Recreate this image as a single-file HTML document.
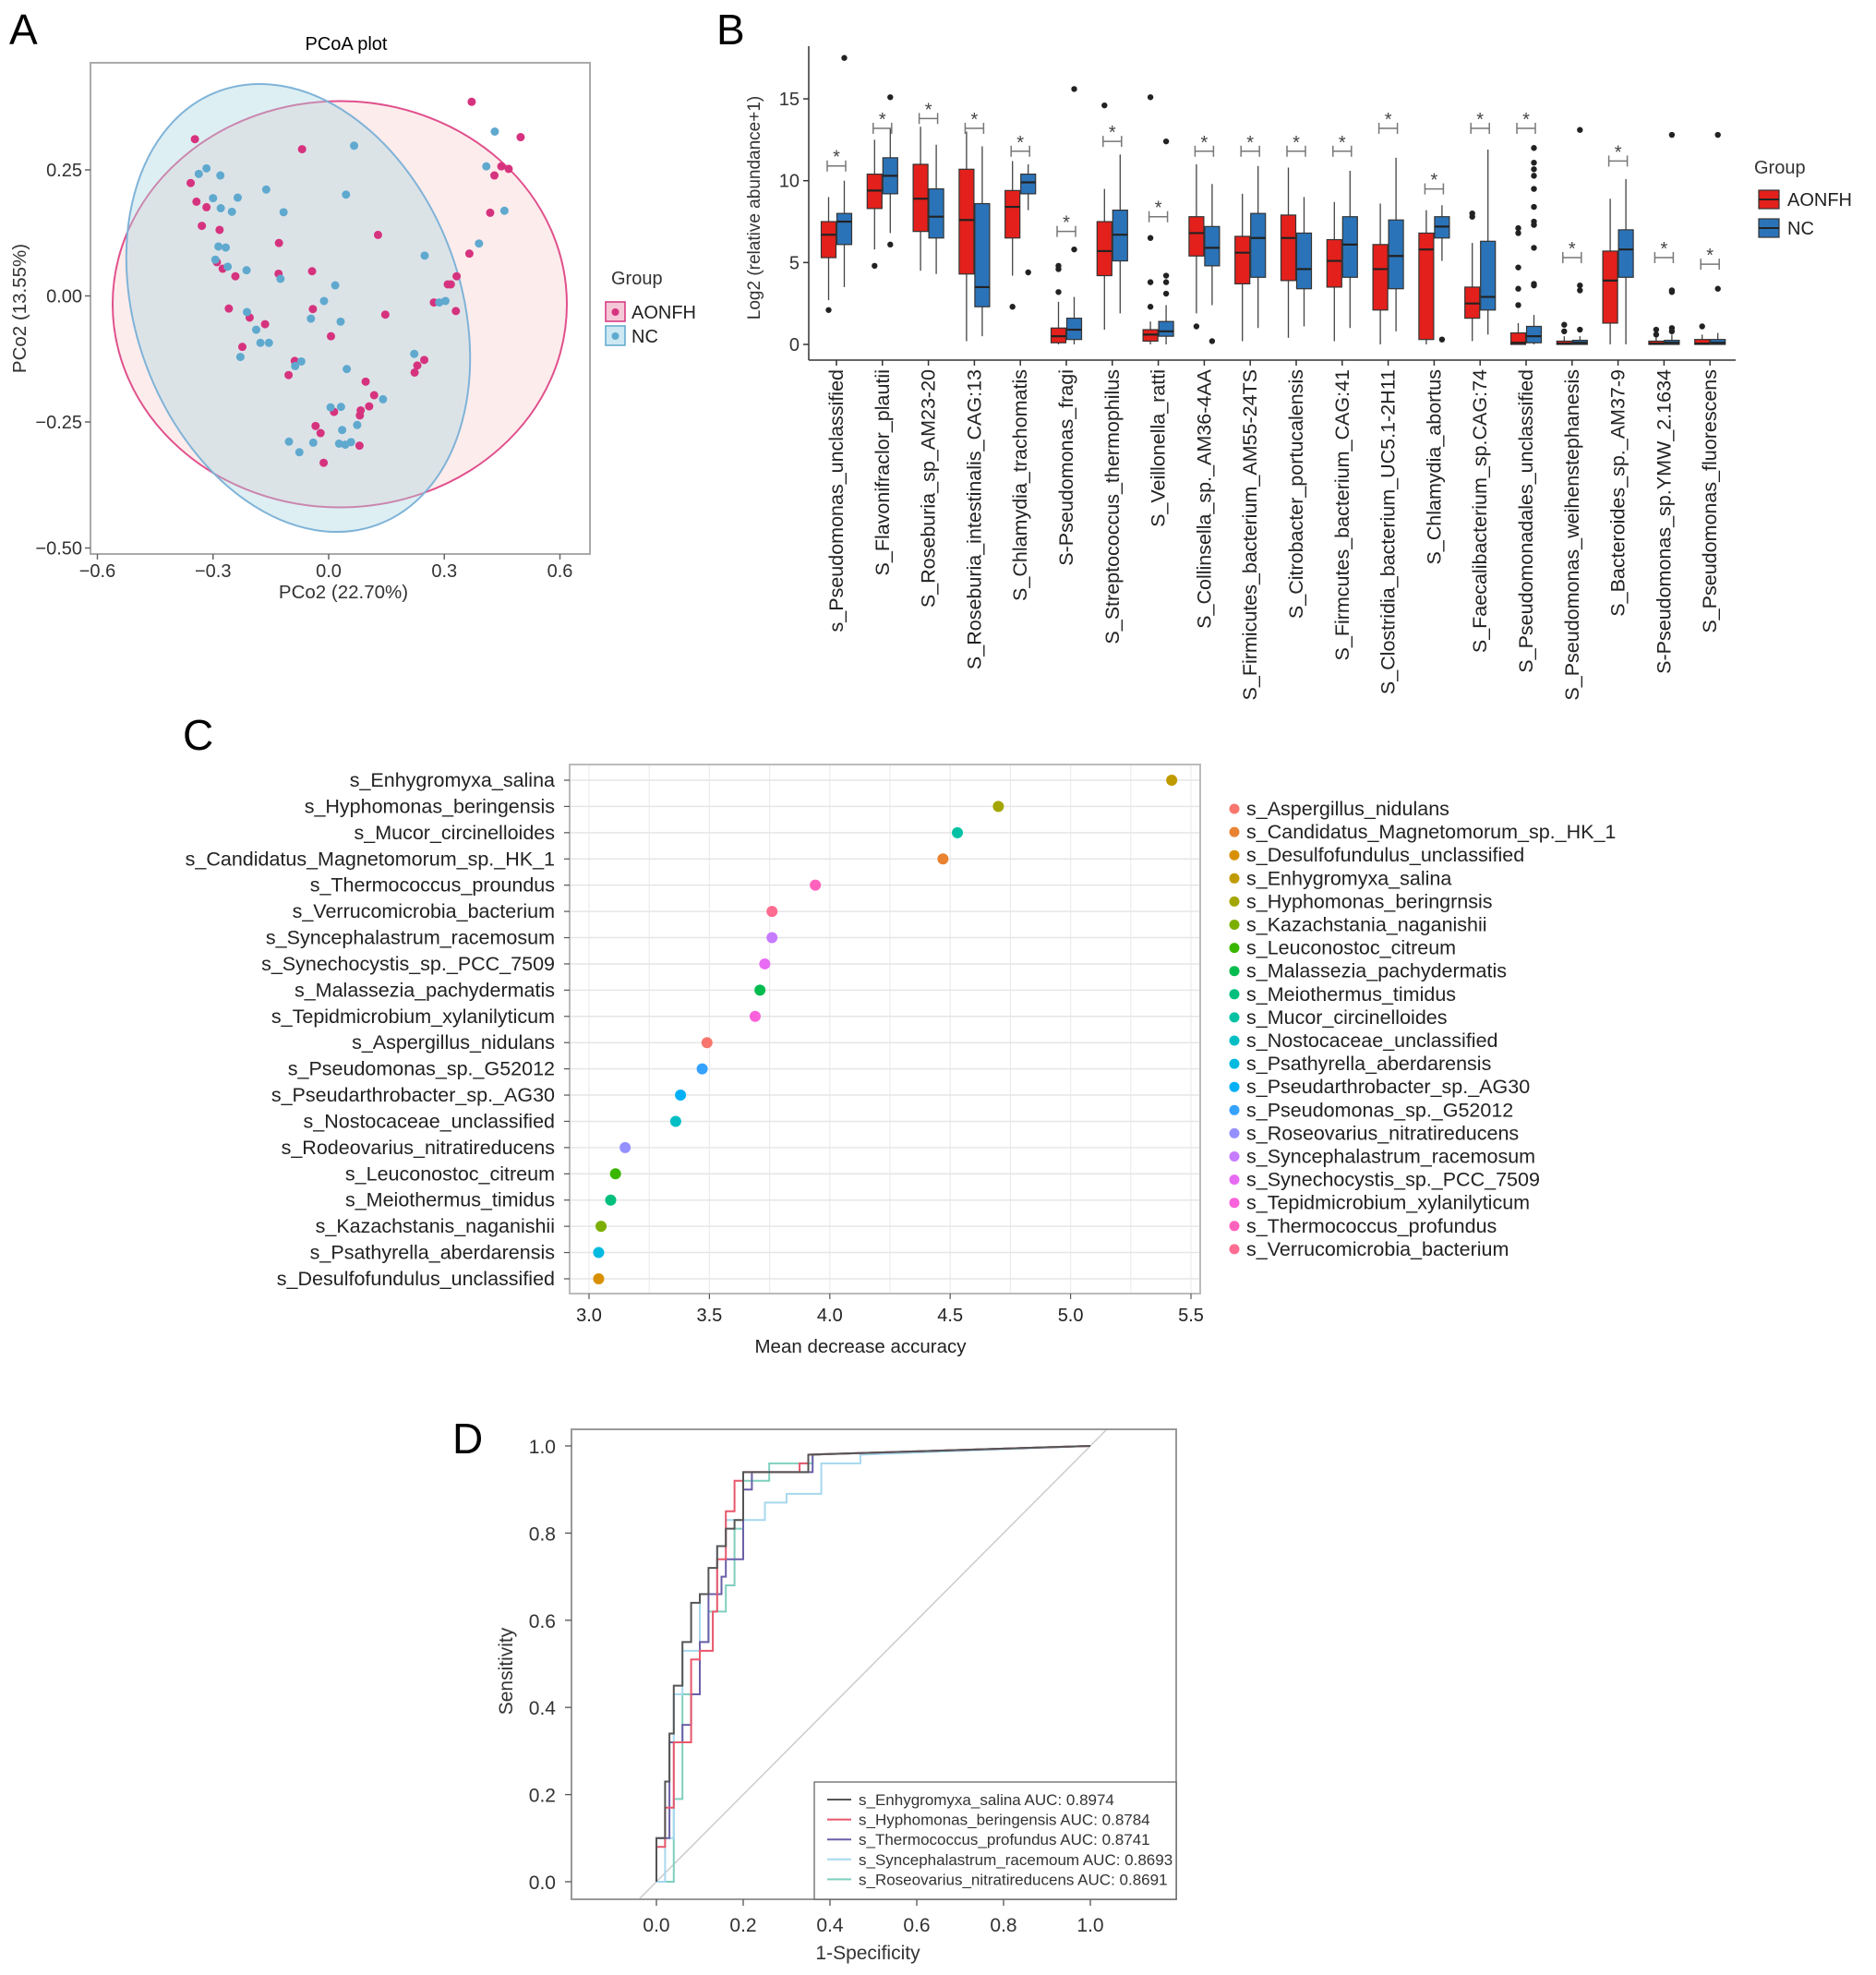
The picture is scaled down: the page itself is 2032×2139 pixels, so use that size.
<!DOCTYPE html>
<html><head><meta charset="utf-8">
<style>
html,body{margin:0;padding:0;background:#fff;}
svg{display:block;font-family:"Liberation Sans",Arial,sans-serif;}
</style></head>
<body>
<svg id="fig" width="2032" height="2139" viewBox="0 0 2032 2139" xmlns="http://www.w3.org/2000/svg">
<rect width="2032" height="2139" fill="#fff"/>
<text x="10" y="48" font-size="46">A</text>
<text x="776" y="48" font-size="46">B</text>
<text x="198" y="812" font-size="46">C</text>
<text x="490" y="1574" font-size="46">D</text>
<g id="pa"></g>
<g id="pb"></g>
<g id="pc"></g>
<g id="pd"></g>
</svg>
<script>
// ===== Panel A data =====
const aonfhX=[-0.347,-0.358,-0.343,-0.317,-0.329,-0.283,-0.275,-0.290,-0.242,-0.129,-0.069,0.128,-0.130,-0.043,-0.259,-0.205,-0.165,-0.224,-0.104,-0.088,-0.041,0.006,0.147,0.096,0.118,0.105,0.083,0.081,0.014,-0.034,-0.021,-0.013,0.080,0.223,0.230,0.248,0.273,0.309,0.317,0.332,0.330,0.365,0.419,0.430,0.448,0.467,0.371,0.498];
const aonfhY=[0.311,0.224,0.187,0.176,0.139,0.131,0.054,0.067,0.039,0.105,0.291,0.121,0.044,0.049,-0.025,-0.043,-0.056,-0.101,-0.157,-0.129,-0.026,-0.080,-0.037,-0.170,-0.197,-0.219,-0.227,-0.237,-0.230,-0.258,-0.272,-0.331,-0.297,-0.152,-0.138,-0.127,-0.013,0.023,0.023,0.039,-0.030,0.084,0.165,0.239,0.257,0.252,0.385,0.315];
const ncX=[-0.337,-0.317,-0.281,-0.300,-0.280,-0.251,-0.236,-0.162,-0.117,0.045,0.066,-0.286,-0.267,-0.294,-0.262,-0.213,-0.125,-0.212,-0.188,-0.177,-0.155,-0.229,-0.087,-0.071,-0.046,-0.012,0.017,0.031,0.047,0.005,0.032,0.074,0.035,0.027,0.043,0.058,-0.040,-0.103,-0.076,0.141,0.222,0.287,0.303,0.249,0.390,0.456,0.409,0.431];
const ncY=[0.242,0.253,0.239,0.194,0.174,0.167,0.195,0.211,0.166,0.201,0.298,0.098,0.096,0.072,0.058,0.051,0.034,-0.032,-0.067,-0.093,-0.093,-0.121,-0.139,-0.130,-0.045,-0.010,0.021,-0.051,-0.145,-0.221,-0.220,-0.256,-0.266,-0.293,-0.295,-0.290,-0.291,-0.289,-0.310,-0.205,-0.115,-0.013,-0.010,0.080,0.104,0.169,0.257,0.326];
const aXTicks=[-0.6,-0.3,0.0,0.3,0.6];
const aXTickLabels=["\u22120.6","\u22120.3","0.0","0.3","0.6"];
const aYTicks=[0.25,0.0,-0.25,-0.5];
const aYTickLabels=["0.25","0.00","\u22120.25","\u22120.50"];

// ===== Panel B data =====
const bCategories=["s_Pseudomonas_unclassified","S_Flavonifraclor_plautii","S_Roseburia_sp_AM23-20","S_Roseburia_intestinalis_CAG:13","S_Chlamydia_trachomatis","S-Pseudomonas_fragi","S_Streptococcus_thermophilus","S_Veillonella_ratti","S_Collinsella_sp._AM36-4AA","S_Firmicutes_bacterium_AM55-24TS","S_Citrobacter_portucalensis","S_Firmcutes_bacterium_CAG:41","S_Clostridia_bacterium_UC5.1-2H11","S_Chlamydia_abortus","S_Faecalibacterium_sp.CAG:74","S_Pseudomonadales_unclassified","S_Pseudomonas_weihenstephanesis","S_Bacteroides_sp._AM37-9","S-Pseudomonas_sp.YMW_2.1634","S_Pseudomonas_fluorescens"];
const redQ1=[5.3,8.3,6.9,4.3,6.5,0.1,4.2,0.2,5.4,3.7,3.9,3.5,2.1,0.3,1.6,0,0,1.3,0,0];
const redMed=[6.7,9.4,8.9,7.6,8.4,0.5,5.7,0.6,6.8,5.6,6.5,5.1,4.6,5.8,2.5,0.1,0.05,3.9,0.05,0.05];
const redQ3=[7.5,10.4,11.0,10.7,9.4,1.0,7.5,0.9,7.8,6.6,7.9,6.4,6.1,6.8,3.5,0.7,0.2,5.7,0.2,0.3];
const redLo=[2.7,5.8,4.5,0.2,4.2,0,0.9,0,1.9,0.2,0.4,0.2,0,0,0.2,0,0,0,0,0];
const redHi=[9.0,12.5,13.3,13.0,11.2,2.6,9.5,1.4,11.0,9.2,10.8,8.7,8.6,8.2,6.2,1.3,0.5,8.9,0.5,0.6];
const redOut=[[2.1],[4.8],[],[],[2.3],[3.2,4.6,4.8],[14.6],[2.3,3.8,6.5,15.1],[1.1],[],[],[],[],[],[7.8,8.0],[2.4,3.4,4.7,6.8,7.1],[0.8,1.2],[],[0.6,0.9],[1.1]];
const blueQ1=[6.1,9.2,6.5,2.3,9.2,0.3,5.1,0.5,4.8,4.1,3.4,4.1,3.4,6.5,2.1,0.1,0,4.1,0,0];
const blueMed=[7.5,10.3,7.8,3.5,9.9,0.9,6.7,0.8,5.9,6.5,4.6,6.1,5.4,7.2,2.9,0.5,0.1,5.8,0.1,0.1];
const blueQ3=[8.0,11.4,9.5,8.6,10.4,1.6,8.2,1.4,7.2,8.0,6.8,7.8,7.6,7.8,6.3,1.1,0.25,7.0,0.25,0.3];
const blueLo=[3.5,6.8,4.3,0.5,8.2,0,1.9,0,2.4,1.0,1.1,1.0,0.8,5.1,0.6,0,0,0,0,0];
const blueHi=[10.0,13.2,12.2,12.1,11.0,2.9,11.6,2.4,9.8,10.9,9.0,10.6,11.4,8.5,11.9,1.8,0.5,10.1,0.6,0.7];
const blueOut=[[17.5],[6.1,15.1],[],[],[4.4],[5.8,15.6],[],[3.1,3.8,4.2,12.4],[0.2],[],[],[],[],[0.3],[],[3.6,3.7,5.9,7.3,7.5,8.4,9.5,10.3,10.7,11.1,12.0],[0.9,3.3,3.6,13.1],[],[0.8,1.0,3.2,3.3,12.8],[3.4,12.8]];
const sigLevel=[10.9,13.2,13.8,13.2,11.8,6.9,12.4,7.8,11.8,11.8,11.8,11.8,13.2,9.5,13.2,13.2,5.3,11.2,5.3,4.9];
const bYTicks=[0,5,10,15];

// ===== Panel C data =====
const cCategories=["s_Enhygromyxa_salina","s_Hyphomonas_beringensis","s_Mucor_circinelloides","s_Candidatus_Magnetomorum_sp._HK_1","s_Thermococcus_proundus","s_Verrucomicrobia_bacterium","s_Syncephalastrum_racemosum","s_Synechocystis_sp._PCC_7509","s_Malassezia_pachydermatis","s_Tepidmicrobium_xylanilyticum","s_Aspergillus_nidulans","s_Pseudomonas_sp._G52012","s_Pseudarthrobacter_sp._AG30","s_Nostocaceae_unclassified","s_Rodeovarius_nitratireducens","s_Leuconostoc_citreum","s_Meiothermus_timidus","s_Kazachstanis_naganishii","s_Psathyrella_aberdarensis","s_Desulfofundulus_unclassified"];
const cValues=[5.42,4.70,4.53,4.47,3.94,3.76,3.76,3.73,3.71,3.69,3.49,3.47,3.38,3.36,3.15,3.11,3.09,3.05,3.04,3.04];
const cColorIdx=[3,4,9,1,18,19,15,16,7,17,0,13,12,10,14,6,8,5,11,2];
const cLegend=["s_Aspergillus_nidulans","s_Candidatus_Magnetomorum_sp._HK_1","s_Desulfofundulus_unclassified","s_Enhygromyxa_salina","s_Hyphomonas_beringrnsis","s_Kazachstania_naganishii","s_Leuconostoc_citreum","s_Malassezia_pachydermatis","s_Meiothermus_timidus","s_Mucor_circinelloides","s_Nostocaceae_unclassified","s_Psathyrella_aberdarensis","s_Pseudarthrobacter_sp._AG30","s_Pseudomonas_sp._G52012","s_Roseovarius_nitratireducens","s_Syncephalastrum_racemosum","s_Synechocystis_sp._PCC_7509","s_Tepidmicrobium_xylanilyticum","s_Thermococcus_profundus","s_Verrucomicrobia_bacterium"];
const cXTicks=[3.0,3.5,4.0,4.5,5.0,5.5];

// ===== Panel D data =====
const rocNames=["s_Enhygromyxa_salina AUC: 0.8974","s_Hyphomonas_beringensis AUC: 0.8784","s_Thermococcus_profundus AUC: 0.8741","s_Syncephalastrum_racemoum AUC: 0.8693","s_Roseovarius_nitratireducens AUC: 0.8691"];
const roc1X=[0,0,0.02,0.02,0.03,0.03,0.04,0.04,0.06,0.06,0.08,0.08,0.10,0.10,0.12,0.12,0.14,0.14,0.16,0.16,0.18,0.18,0.20,0.20,0.35,0.35,1.0];
const roc1Y=[0,0.10,0.10,0.23,0.23,0.34,0.34,0.45,0.45,0.55,0.55,0.64,0.64,0.66,0.66,0.72,0.72,0.77,0.77,0.81,0.81,0.83,0.83,0.94,0.94,0.98,1.0];
const roc2X=[0,0,0.02,0.02,0.04,0.04,0.08,0.08,0.10,0.10,0.13,0.13,0.14,0.14,0.16,0.16,0.18,0.18,0.20,0.20,0.33,0.33,0.35,0.35,1.0];
const roc2Y=[0,0.08,0.08,0.17,0.17,0.32,0.32,0.51,0.51,0.53,0.53,0.62,0.62,0.74,0.74,0.85,0.85,0.92,0.92,0.94,0.94,0.96,0.96,0.98,1.0];
const roc3X=[0,0,0.03,0.03,0.06,0.06,0.08,0.08,0.10,0.10,0.12,0.12,0.15,0.15,0.16,0.16,0.20,0.20,0.22,0.22,0.36,0.36,1.0];
const roc3Y=[0,0.10,0.10,0.32,0.32,0.36,0.36,0.43,0.43,0.55,0.55,0.66,0.66,0.70,0.70,0.74,0.74,0.90,0.90,0.94,0.94,0.98,1.0];
const roc4X=[0,0.02,0.02,0.04,0.04,0.06,0.06,0.10,0.10,0.14,0.14,0.16,0.16,0.25,0.25,0.30,0.30,0.38,0.38,0.47,0.47,1.0];
const roc4Y=[0,0,0.10,0.10,0.43,0.43,0.53,0.53,0.66,0.66,0.77,0.77,0.83,0.83,0.87,0.87,0.89,0.89,0.96,0.96,0.98,1.0];
const roc5X=[0,0.04,0.04,0.06,0.06,0.10,0.10,0.12,0.12,0.16,0.16,0.18,0.18,0.20,0.20,0.26,0.26,0.36,0.36,1.0];
const roc5Y=[0,0,0.19,0.19,0.43,0.43,0.55,0.55,0.62,0.62,0.68,0.68,0.81,0.81,0.92,0.92,0.96,0.96,0.98,1.0];
const dTicks=[0.0,0.2,0.4,0.6,0.8,1.0];

const NS="http://www.w3.org/2000/svg";
function mk(parent,tag,attrs,text){const e=document.createElementNS(NS,tag);for(const k in attrs)e.setAttribute(k,attrs[k]);if(text!==undefined)e.textContent=text;parent.appendChild(e);return e;}

// ===== Panel A =====
(function(){
const g=document.getElementById('pa');
const ax=v=>356+v*417.5, ay=v=>320.5-v*546;
let t=mk(g,'text',{x:375,y:54,'font-size':20,'text-anchor':'middle'},'PCoA plot');


let r=mk(g,'rect',{x:98,y:68,width:541,height:532,fill:'#fff',stroke:'#aaa','stroke-width':2});


let e1=mk(g,'ellipse',{cx:368,cy:329.5,rx:246,ry:220,fill:'rgba(250,200,200,0.35)',stroke:'#e0508c','stroke-width':2});


let e2=mk(g,'ellipse',{cx:0,cy:0,rx:176,ry:250,transform:'translate(323,333.5) rotate(-20)',fill:'rgba(170,215,225,0.4)',stroke:'#7fb3d8','stroke-width':2});


for(let i=0;i<aonfhX.length;i++){
 const c=mk(g,'circle',{cx:ax(aonfhX[i]),cy:ay(aonfhY[i]),r:4.5,fill:'#d6337f'});
 
 
}
for(let i=0;i<ncX.length;i++){
 const c=mk(g,'circle',{cx:ax(ncX[i]),cy:ay(ncY[i]),r:4.5,fill:'#5fa9cf'});
 
 
}
aXTicks.forEach((v,i)=>{
 mk(g,'line',{x1:ax(v),x2:ax(v),y1:600,y2:606,stroke:'#666','stroke-width':1.5});
 const l=mk(g,'text',{x:ax(v),y:625,'font-size':20,'text-anchor':'middle',fill:'#333'},aXTickLabels[i]);
 
 
});
aYTicks.forEach((v,i)=>{
 mk(g,'line',{x1:92,x2:98,y1:ay(v),y2:ay(v),stroke:'#666','stroke-width':1.5});
 const l=mk(g,'text',{x:89,y:ay(v)+7,'font-size':20,'text-anchor':'end',fill:'#333'},aYTickLabels[i]);
 
 
});
t=mk(g,'text',{x:372,y:648,'font-size':20.5,'text-anchor':'middle',fill:'#333'},'PCo2 (22.70%)');


t=mk(g,'text',{x:0,y:0,'font-size':20.5,'text-anchor':'middle',fill:'#333',transform:'translate(28,334) rotate(-90)'},'PCo2 (13.55%)');


t=mk(g,'text',{x:662,y:308,'font-size':20,fill:'#333'},'Group');


[['AONFH','#d6337f','#f5c8d8',338],['NC','#5fa9cf','#cde8f2',364]].forEach(d=>{
 const lg=mk(g,'g',{});
 
 
 mk(lg,'rect',{x:656,y:d[3]-11,width:21,height:21,fill:d[2],stroke:d[1],'stroke-width':1.5});
 mk(lg,'circle',{cx:666.5,cy:d[3],r:4,fill:d[1]});
 mk(lg,'text',{x:684,y:d[3]+7,'font-size':20,fill:'#222'},d[0]);
});
})();

// ===== Panel B =====
(function(){
const g=document.getElementById('pb');
const by=v=>373-v*17.73;
const gx=i=>906+i*49.8;
mk(g,'line',{x1:876,x2:876,y1:50,y2:390,stroke:'#333','stroke-width':1.5});
mk(g,'line',{x1:876,x2:1880,y1:390,y2:390,stroke:'#333','stroke-width':1.5});
bYTicks.forEach(v=>{
 mk(g,'line',{x1:870,x2:876,y1:by(v),y2:by(v),stroke:'#333','stroke-width':1.5});
 const l=mk(g,'text',{x:866,y:by(v)+7,'font-size':20,'text-anchor':'end',fill:'#333'},String(v));
 
 
});
let t=mk(g,'text',{x:0,y:0,'font-size':19,'text-anchor':'middle',fill:'#333',transform:'translate(823,225) rotate(-90)'},'Log2 (relative abundance+1)');


function box(cx,q1,md,q3,lo,hi,out,fill,name){
 const bg=mk(g,'g',{});
 
 
 mk(bg,'line',{x1:cx,x2:cx,y1:by(hi),y2:by(lo),stroke:'#444','stroke-width':1.3});
 mk(bg,'rect',{x:cx-8,y:by(q3),width:16,height:Math.max(1.5,by(q1)-by(q3)),fill:fill,stroke:'#333','stroke-width':1.2});
 mk(bg,'line',{x1:cx-8,x2:cx+8,y1:by(md),y2:by(md),stroke:'#222','stroke-width':2.2});
 out.forEach(o=>mk(bg,'circle',{cx:cx,cy:by(o),r:3.2,fill:'#222'}));
}
bCategories.forEach((c,i)=>{
 const x=gx(i);
 box(x-8.5,redQ1[i],redMed[i],redQ3[i],redLo[i],redHi[i],redOut[i],'#e3201b','aonfh-box');
 box(x+8.5,blueQ1[i],blueMed[i],blueQ3[i],blueLo[i],blueHi[i],blueOut[i],'#2b73b8','nc-box');
 mk(g,'line',{x1:x,x2:x,y1:390,y2:396,stroke:'#333','stroke-width':1.5});
 const sg=mk(g,'g',{});
 
 
 const s=by(sigLevel[i]);
 mk(sg,'line',{x1:x-10,x2:x+10,y1:s,y2:s,stroke:'#777','stroke-width':1.5});
 mk(sg,'line',{x1:x-10,x2:x-10,y1:s-6,y2:s+6,stroke:'#777','stroke-width':1.5});
 mk(sg,'line',{x1:x+10,x2:x+10,y1:s-6,y2:s+6,stroke:'#777','stroke-width':1.5});
 mk(sg,'text',{x:x,y:s-3,'font-size':20,'text-anchor':'middle',fill:'#444'},'*');
 const l=mk(g,'text',{x:0,y:0,'font-size':21.5,'text-anchor':'end',fill:'#222',transform:`translate(${x+7},400) rotate(-90)`},c);
 
 
});
t=mk(g,'text',{x:1900,y:188,'font-size':20,fill:'#333'},'Group');


[['AONFH','#e3201b',216],['NC','#2b73b8',247]].forEach(d=>{
 const lg=mk(g,'g',{});
 
 
 mk(lg,'rect',{x:1905,y:d[2]-10,width:22,height:20,fill:d[1],stroke:'#333','stroke-width':1.2});
 mk(lg,'line',{x1:1905,x2:1927,y1:d[2],y2:d[2],stroke:'#222','stroke-width':2});
 mk(lg,'text',{x:1936,y:d[2]+7,'font-size':20,fill:'#222'},d[0]);
});
})();

// ===== Panel C =====
(function(){
const g=document.getElementById('pc');
const pal=["#F8766D","#EA8331","#D89000","#C09B00","#A3A500","#7CAE00","#39B600","#00BB4E","#00BF7D","#00C1A3","#00BFC4","#00BAE0","#00B0F6","#35A2FF","#9590FF","#C77CFF","#E76BF3","#FA62DB","#FF62BC","#FF6C91"];
const cx=v=>638+(v-3)*260.8;
const cy=i=>845+i*28.42;
mk(g,'rect',{x:617,y:828,width:683,height:573,fill:'#fff',stroke:'#bbb','stroke-width':2});
for(let v=3;v<=5.5;v+=0.25){mk(g,'line',{x1:cx(v),x2:cx(v),y1:829,y2:1400,stroke:'#ececec','stroke-width':1.2});}
cCategories.forEach((c,i)=>{
 mk(g,'line',{x1:618,x2:1299,y1:cy(i),y2:cy(i),stroke:'#e6e6e6','stroke-width':1.5});
 mk(g,'line',{x1:611,x2:617,y1:cy(i),y2:cy(i),stroke:'#555','stroke-width':1.2});
 const l=mk(g,'text',{x:601,y:cy(i)+7,'font-size':21.5,'text-anchor':'end',fill:'#222'},c);
 
 
 const d=mk(g,'circle',{cx:cx(cValues[i]),cy:cy(i),r:6,fill:pal[cColorIdx[i]]});
 
 
});
cXTicks.forEach(v=>{
 mk(g,'line',{x1:cx(v),x2:cx(v),y1:1401,y2:1407,stroke:'#555','stroke-width':1.2});
 const l=mk(g,'text',{x:cx(v),y:1431,'font-size':20,'text-anchor':'middle',fill:'#222'},v.toFixed(1));
 
 
});
let t=mk(g,'text',{x:932,y:1465,'font-size':20.5,'text-anchor':'middle',fill:'#222'},'Mean decrease accuracy');


cLegend.forEach((c,i)=>{
 const lg=mk(g,'g',{});
 
 
 const y=876+i*25.1;
 mk(lg,'circle',{cx:1337,cy:y,r:5.5,fill:pal[i]});
 mk(lg,'text',{x:1350,y:y+7,'font-size':21.5,fill:'#222'},c);
});
})();

// ===== Panel D =====
(function(){
const g=document.getElementById('pd');
const dx=v=>711+v*470, dy=v=>2038-v*472;
mk(g,'rect',{x:619,y:1548,width:655,height:509,fill:'#fff',stroke:'#999','stroke-width':2});
const cp=mk(g,'clipPath',{id:'dclip'});
mk(cp,'rect',{x:620,y:1549,width:653,height:507});
mk(g,'line',{x1:dx(-0.04),y1:dy(-0.04),x2:dx(1.04),y2:dy(1.04),stroke:'#ccc','stroke-width':1.5,'clip-path':'url(#dclip)'});
const cols=['#555','#e8566b','#6b5fa8','#a6d8ef','#7fcfbf'];
const xs=[roc1X,roc2X,roc3X,roc4X,roc5X], ys=[roc1Y,roc2Y,roc3Y,roc4Y,roc5Y];
[4,3,2,1,0].forEach(k=>{
 const pts=xs[k].map((v,j)=>dx(v)+','+dy(ys[k][j])).join(' ');
 const p=mk(g,'polyline',{points:pts,fill:'none',stroke:cols[k],'stroke-width':2});
 
 
});
dTicks.forEach(v=>{
 mk(g,'line',{x1:dx(v),x2:dx(v),y1:2057,y2:2064,stroke:'#555','stroke-width':1.3});
 let l=mk(g,'text',{x:dx(v),y:2092,'font-size':21,'text-anchor':'middle',fill:'#333'},v.toFixed(1));
 
 
 mk(g,'line',{x1:612,x2:619,y1:dy(v),y2:dy(v),stroke:'#555','stroke-width':1.3});
 l=mk(g,'text',{x:602,y:dy(v)+8,'font-size':21,'text-anchor':'end',fill:'#333'},v.toFixed(1));
 
 
});
let t=mk(g,'text',{x:940,y:2122,'font-size':21,'text-anchor':'middle',fill:'#333'},'1-Specificity');


t=mk(g,'text',{x:0,y:0,'font-size':21,'text-anchor':'middle',fill:'#333',transform:'translate(555,1810) rotate(-90)'},'Sensitivity');


const lb=mk(g,'rect',{x:882,y:1930,width:392,height:127,fill:'#fff',stroke:'#666','stroke-width':1.3});


rocNames.forEach((n,i)=>{
 const lg=mk(g,'g',{});
 
 
 const y=1949+i*21.6;
 mk(lg,'line',{x1:896,x2:922,y1:y,y2:y,stroke:cols[i],'stroke-width':2});
 mk(lg,'text',{x:930,y:y+6,'font-size':17,fill:'#333'},n);
});
})();
</script>
</body></html>
